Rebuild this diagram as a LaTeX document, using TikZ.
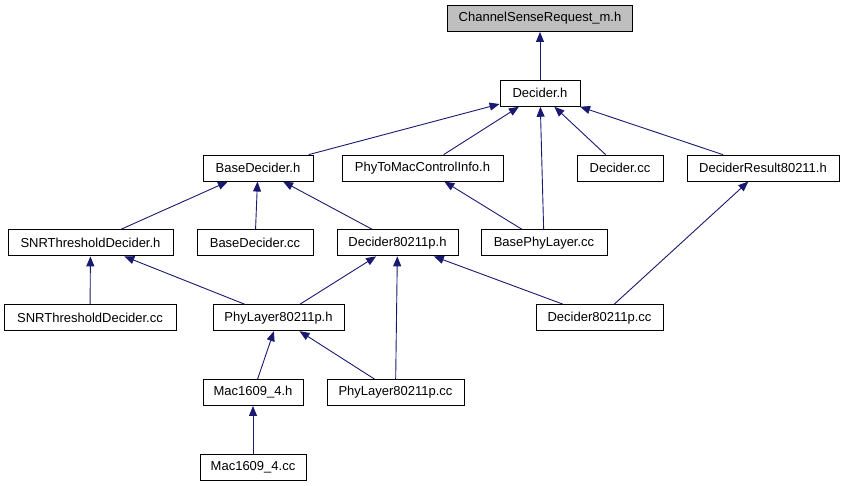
\documentclass[tikz,border=0pt]{standalone}
\usepackage{fontspec}
\setmainfont{Liberation Sans}
\usepackage{tikz}
\usetikzlibrary{arrows.meta, positioning}
\definecolor{edgeblue}{HTML}{191970}
\definecolor{rootgray}{HTML}{BFBFBF}

\begin{document}
\begin{tikzpicture}[x=1pt, y=-1pt,
    font=\fontsize{13}{15}\selectfont,
    file/.style={draw=black, line width=0.9pt, fill=white, inner sep=0pt, minimum height=26pt},
    incl/.style={draw=edgeblue, line width=0.9pt, -{Triangle[length=10pt,width=8pt]}}]
    \useasboundingbox (0,0) rectangle (841,485);
    % ---- Knoten ----
    \node[file, fill=rootgray, minimum width=185pt] (chan) at (540,18.5) {ChannelSenseRequest\_m.h};
    \node[file, minimum width=80pt]  (dech)   at (540,93.3)  {Decider.h};
    \node[file, minimum width=110pt] (based)  at (258,168.1) {BaseDecider.h};
    \node[file, minimum width=161pt] (ctrl)   at (422.5,168.1) {PhyToMacControlInfo.h};
    \node[file, minimum width=86pt]  (deccc)  at (620,168.1) {Decider.cc};
    \node[file, minimum width=152pt] (result) at (763,168.1) {DeciderResult80211.h};
    \node[file, minimum width=165pt] (snrh)   at (90.5,242.9) {SNRThresholdDecider.h};
    \node[file, minimum width=116pt] (basecc) at (255,242.9) {BaseDecider.cc};
    \node[file, minimum width=121pt] (dph)    at (397.5,242.9) {Decider80211p.h};
    \node[file, minimum width=126pt] (bphy)   at (544,242.9) {BasePhyLayer.cc};
    \node[file, minimum width=172pt] (snrcc)  at (90,317.7) {SNRThresholdDecider.cc};
    \node[file, minimum width=131pt] (phyh)   at (278.5,317.7) {PhyLayer80211p.h};
    \node[file, minimum width=127pt] (dpcc)   at (599.5,317.7) {Decider80211p.cc};
    \node[file, minimum width=100pt] (mach)   at (253,392.5) {Mac1609\_4.h};
    \node[file, minimum width=137pt] (phycc)  at (395.5,392.5) {PhyLayer80211p.cc};
    \node[file, minimum width=106pt] (maccc)  at (253,467.3) {Mac1609\_4.cc};
    % ---- Includes ----
    \draw[incl] (dech) -- (chan);
    \foreach \src in {based, ctrl, bphy, deccc, result}
        \draw[incl] (\src) -- (dech);
    \foreach \src in {snrh, basecc, dph}
        \draw[incl] (\src) -- (based);
    \draw[incl] (bphy) -- (ctrl);
    \draw[incl] (snrcc) -- (snrh);
    \draw[incl] (phyh) -- (snrh);
    \foreach \src in {phyh, phycc, dpcc}
        \draw[incl] (\src) -- (dph);
    \draw[incl] (dpcc) -- (result);
    \draw[incl] (mach) -- (phyh);
    \draw[incl] (phycc) -- (phyh);
    \draw[incl] (maccc) -- (mach);
\end{tikzpicture}
\end{document}
